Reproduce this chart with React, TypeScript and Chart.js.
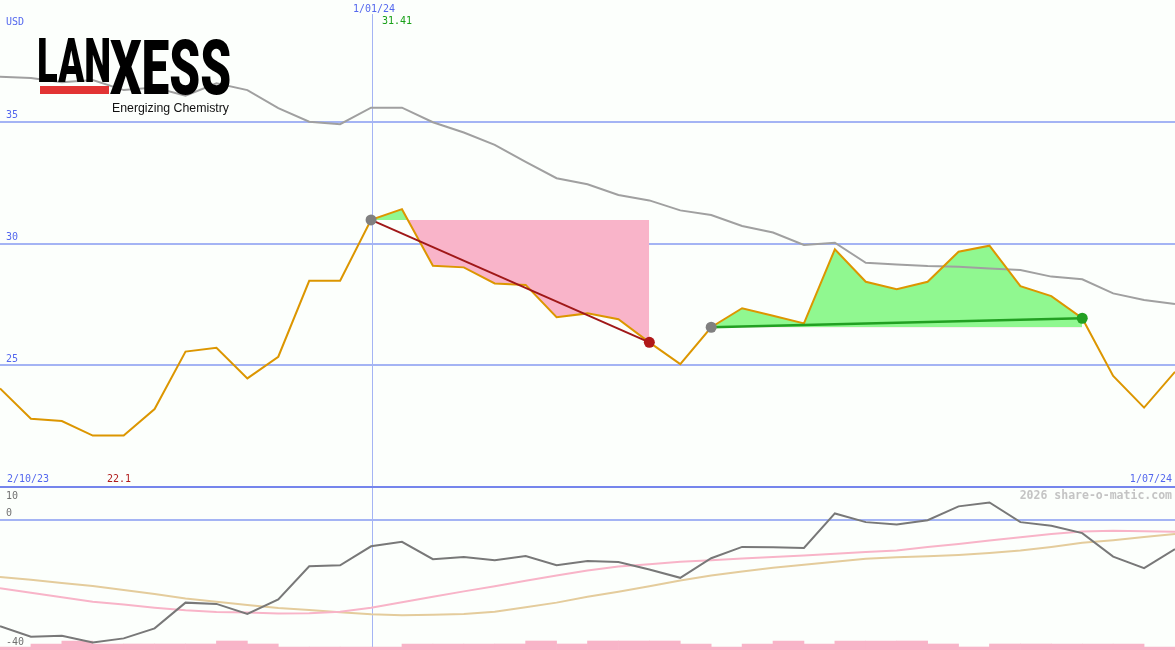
import React, { useEffect, useRef } from "react";
import { Chart, registerables } from "chart.js";

Chart.register(...registerables);

// ---------- data (weekly points, index 0..38) ----------
const close = [
  24.05, 22.8, 22.71, 22.11, 22.11, 23.2, 25.56, 25.72, 24.46, 25.35,
  28.47, 28.47, 30.97, 31.41, 29.09, 29.02, 28.36, 28.3, 26.97, 27.13,
  26.89, 25.94, 25.05, 26.56, 27.34, 27.03, 26.72, 29.76, 28.43, 28.12,
  28.43, 29.66, 29.91, 28.25, 27.84, 26.93, 24.56, 23.26, 24.73,
];
const movingAvg = [
  36.85, 36.8, 36.62, 36.71, 36.3, 36.41, 36.07, 36.58, 36.3, 35.56,
  35.0, 34.9, 35.58, 35.58, 34.98, 34.56, 34.05, 33.35, 32.68, 32.43,
  31.99, 31.77, 31.36, 31.17, 30.72, 30.45, 29.94, 30.03, 29.21, 29.14,
  29.08, 29.05, 28.97, 28.91, 28.64, 28.53, 27.95, 27.68, 27.52,
];
const momentum = [
  -32.9, -36.2, -35.9, -38.0, -36.7, -33.6, -25.6, -26.0, -29.1, -24.6,
  -14.3, -14.0, -8.1, -6.7, -12.1, -11.4, -12.4, -11.1, -14.0, -12.7,
  -13.0, -15.3, -17.9, -11.8, -8.3, -8.4, -8.6, 2.1, -0.6, -1.3,
  0.0, 4.3, 5.5, -0.6, -1.7, -4.0, -11.3, -14.9, -9.0,
];
const momentumFast = [
  -21.1, -22.5, -23.9, -25.3, -26.2, -27.2, -28.0, -28.5, -28.7, -29.0,
  -28.9, -28.4, -27.2, -25.5, -23.8, -22.1, -20.5, -18.8, -17.2, -15.6,
  -14.4, -13.7, -12.9, -12.4, -11.9, -11.4, -11.0, -10.4, -9.9, -9.4,
  -8.3, -7.4, -6.3, -5.3, -4.3, -3.5, -3.3, -3.4, -3.6,
];
const momentumSlow = [
  -17.6, -18.5, -19.5, -20.4, -21.7, -22.9, -24.3, -25.3, -26.3, -27.3,
  -27.9, -28.6, -29.2, -29.5, -29.4, -29.1, -28.4, -27.0, -25.6, -23.8,
  -22.2, -20.5, -18.7, -17.2, -15.9, -14.8, -13.8, -12.9, -12.0, -11.5,
  -11.2, -10.8, -10.2, -9.4, -8.3, -7.0, -6.2, -5.2, -4.3,
];
const volumeLevel = [
  1, 2, 3, 2, 2, 2, 2, 3, 2, 1,
  1, 1, 1, 2, 2, 2, 2, 3, 2, 3,
  3, 3, 2, 1, 2, 3, 2, 3, 3, 3,
  2, 1, 2, 2, 2, 2, 2, 1,
];
const priceTicks = [35, 30, 25];
const lowerTicks = ["10", "0", "-40"];
const dateLabels = ["2/10/23", "1/01/24", "1/07/24"];
const markIndex = 12;
const trendDown = [12, 21];
const trendUp = [23, 35];
const maxLabel = "31.41";
const minLabel = "22.1";

// ---------- layout constants ----------
const W = 1175;
const H = 650;
const MAIN_H = 487;
const MAIN_TOP = 40;
const MAIN_BOTTOM = 20;
const LOW_TOP_Y = 488;
const LOW_TOP = 10;
const LOW_BOTTOM = -40;
const LOW_BOTTOM_Y = 649;

const BG = "#fcfffc";
const GRID = "#a4b4f4";
const SEP = "#7585ec";
const BLUE_TXT = "#5468ee";
const PINK_FILL = "#f9b4c9";
const GREEN_FILL = "#90f890";

const mainPerPx = (MAIN_TOP - MAIN_BOTTOM) / MAIN_H;
const lowPerPx = (LOW_TOP - LOW_BOTTOM) / (LOW_BOTTOM_Y - LOW_TOP_Y);

const pts = (arr: number[], off = 0) => arr.map((v, i) => ({ x: i + off, y: v }));
const seg = (a: number, b: number) =>
  close.slice(a, b + 1).map((v, k) => ({ x: a + k, y: v }));
const lvl = (a: number, b: number) =>
  close.slice(a, b + 1).map((_, k) => ({ x: a + k, y: close[a] }));

function drawBox(ctx: CanvasRenderingContext2D, text: string, x0: number, y0: number, tw: number, th: number) {
  ctx.save();
  ctx.font = '900 100px Roboto, "Liberation Sans", sans-serif';
  ctx.textBaseline = "alphabetic";
  ctx.textAlign = "left";
  const m = ctx.measureText(text);
  const w = m.actualBoundingBoxLeft + m.actualBoundingBoxRight;
  const h = m.actualBoundingBoxAscent + m.actualBoundingBoxDescent;
  ctx.translate(x0, y0);
  ctx.scale(tw / w, th / h);
  ctx.fillStyle = "#000";
  ctx.fillText(text, m.actualBoundingBoxLeft, m.actualBoundingBoxAscent);
  ctx.restore();
}

const decor = {
  id: "decor",
  beforeDraw(chart: any) {
    const { ctx } = chart;
    ctx.save();
    ctx.fillStyle = BG;
    ctx.fillRect(0, 0, W, H);
    ctx.restore();
  },
  beforeDatasetsDraw(chart: any) {
    const { ctx, scales } = chart;
    ctx.save();
    ctx.fillStyle = GRID;
    for (const t of priceTicks) {
      const py = Math.round(scales.y.getPixelForValue(t));
      ctx.fillRect(0, py - 1, W, 2);
    }
    const z = Math.round(scales.y2.getPixelForValue(0));
    ctx.fillRect(0, z - 1, W, 2);
    const vx = Math.floor(scales.x.getPixelForValue(markIndex)) + 1;
    ctx.fillRect(vx, 14, 1, H - 14);
    ctx.fillStyle = SEP;
    const sy = Math.round(scales.y.getPixelForValue(MAIN_BOTTOM));
    ctx.fillRect(0, sy - 1, W, 2);
    ctx.restore();
  },
  afterDraw(chart: any) {
    const { ctx, scales } = chart;
    ctx.save();
    // logo
    drawBox(ctx, "LAN", 39, 39, 70, 44);
    drawBox(ctx, "XESS", 110, 39, 120, 56);
    ctx.fillStyle = "#e23434";
    ctx.fillRect(40, 86, 69, 8);
    ctx.fillStyle = "#111";
    ctx.font = '12.5px "Liberation Sans", Arial, sans-serif';
    ctx.textBaseline = "alphabetic";
    ctx.textAlign = "left";
    ctx.fillText("Energizing Chemistry", 112, 111.5, 117);

    // texts
    ctx.font = '10px "DejaVu Sans Mono", monospace';
    ctx.textBaseline = "middle";
    ctx.textAlign = "left";
    ctx.fillStyle = BLUE_TXT;
    ctx.fillText("USD", 6, 22);
    for (const t of priceTicks) {
      ctx.fillText(String(t), 6, scales.y.getPixelForValue(t) - 6);
    }
    ctx.fillText(dateLabels[0], 7, 479);
    ctx.textAlign = "center";
    ctx.fillText(dateLabels[1], scales.x.getPixelForValue(markIndex) + 3, 9);
    ctx.textAlign = "right";
    ctx.fillText(dateLabels[2], 1172, 479);
    ctx.textAlign = "left";
    ctx.fillStyle = "#18a018";
    ctx.fillText(maxLabel, 382, 21);
    ctx.fillStyle = "#b01c1c";
    ctx.fillText(minLabel, 107, 479);
    ctx.fillStyle = "#707070";
    ctx.fillText(lowerTicks[0], 6, 496);
    ctx.fillText(lowerTicks[1], 6, 513);
    ctx.fillText(lowerTicks[2], 6, 642);
    ctx.textAlign = "right";
    ctx.fillStyle = "#c4c4c4";
    ctx.font = 'bold 11.5px "DejaVu Sans Mono", monospace';
    ctx.fillText("2026 share-o-matic.com", 1172, 496);
    ctx.restore();
  },
};

const hidden = "rgba(0,0,0,0)";

export default function App() {
  const ref = useRef<HTMLCanvasElement | null>(null);
  useEffect(() => {
    if (!ref.current) return;
    const chart = new Chart(ref.current, {
      type: "line",
      data: {
        datasets: [
          {
            data: [
              { x: trendDown[0], y: close[trendDown[0]] },
              { x: trendDown[1], y: close[trendDown[1]] },
            ],
            borderColor: "#a01818",
            borderWidth: 2,
            pointRadius: 5.5,
            pointBorderWidth: 0,
            pointBackgroundColor: ["#808080", "#b01818"],
            order: 1,
          },
          {
            data: [
              { x: trendUp[0], y: close[trendUp[0]] },
              { x: trendUp[1], y: close[trendUp[1]] },
            ],
            borderColor: "#22a022",
            borderWidth: 2.5,
            pointRadius: 5.5,
            pointBorderWidth: 0,
            pointBackgroundColor: ["#808080", "#22a022"],
            order: 1,
          },
          {
            data: pts(close),
            borderColor: "#dc9600",
            borderWidth: 2,
            pointRadius: 0,
            order: 3,
          },
          {
            data: pts(movingAvg),
            borderColor: "#a0a0a0",
            borderWidth: 2,
            pointRadius: 0,
            order: 4,
          },
          {
            data: lvl(trendDown[0], trendDown[1]),
            borderColor: hidden,
            borderWidth: 0,
            pointRadius: 0,
            order: 6,
          },
          {
            data: seg(trendDown[0], trendDown[1]),
            borderColor: hidden,
            borderWidth: 0,
            pointRadius: 0,
            fill: { target: 4, above: GREEN_FILL, below: PINK_FILL },
            order: 5,
          },
          {
            data: lvl(trendUp[0], trendUp[1]),
            borderColor: hidden,
            borderWidth: 0,
            pointRadius: 0,
            order: 6,
          },
          {
            data: seg(trendUp[0], trendUp[1]),
            borderColor: hidden,
            borderWidth: 0,
            pointRadius: 0,
            fill: { target: 6, above: GREEN_FILL, below: PINK_FILL },
            order: 5,
          },
          {
            data: pts(momentum),
            yAxisID: "y2",
            borderColor: "#787878",
            borderWidth: 2,
            pointRadius: 0,
            order: 7,
          },
          {
            data: pts(momentumFast),
            yAxisID: "y2",
            borderColor: "#f8b4c8",
            borderWidth: 2,
            pointRadius: 0,
            order: 8,
          },
          {
            data: pts(momentumSlow),
            yAxisID: "y2",
            borderColor: "#e4cc9c",
            borderWidth: 2,
            pointRadius: 0,
            order: 9,
          },
          {
            type: "bar",
            data: pts(volumeLevel, 0.5),
            yAxisID: "y3",
            backgroundColor: "#f8b4c8",
            borderWidth: 0,
            barPercentage: 1,
            categoryPercentage: 1,
            order: 10,
          } as any,
        ],
      },
      options: {
        responsive: false,
        animation: false,
        events: [],
        layout: { padding: 0, autoPadding: false },
        plugins: {
          legend: { display: false },
          tooltip: { enabled: false },
          title: { display: false },
        },
        scales: {
          x: { type: "linear", min: 0, max: close.length - 1, display: false, offset: false },
          y: {
            type: "linear",
            display: false,
            max: MAIN_TOP,
            min: MAIN_TOP - mainPerPx * H,
          },
          y2: {
            type: "linear",
            display: false,
            max: LOW_TOP + lowPerPx * LOW_TOP_Y,
            min: LOW_BOTTOM - lowPerPx * (H - LOW_BOTTOM_Y),
          },
          y3: { type: "linear", display: false, min: 0, max: H / 3 },
        },
      } as any,
      plugins: [decor],
    });
    return () => chart.destroy();
  }, []);
  return (
    <div style={{ position: "fixed", left: 0, top: 0, width: W, height: H, background: BG }}>
      <canvas ref={ref} width={W} height={H} style={{ display: "block" }} />
    </div>
  );
}
